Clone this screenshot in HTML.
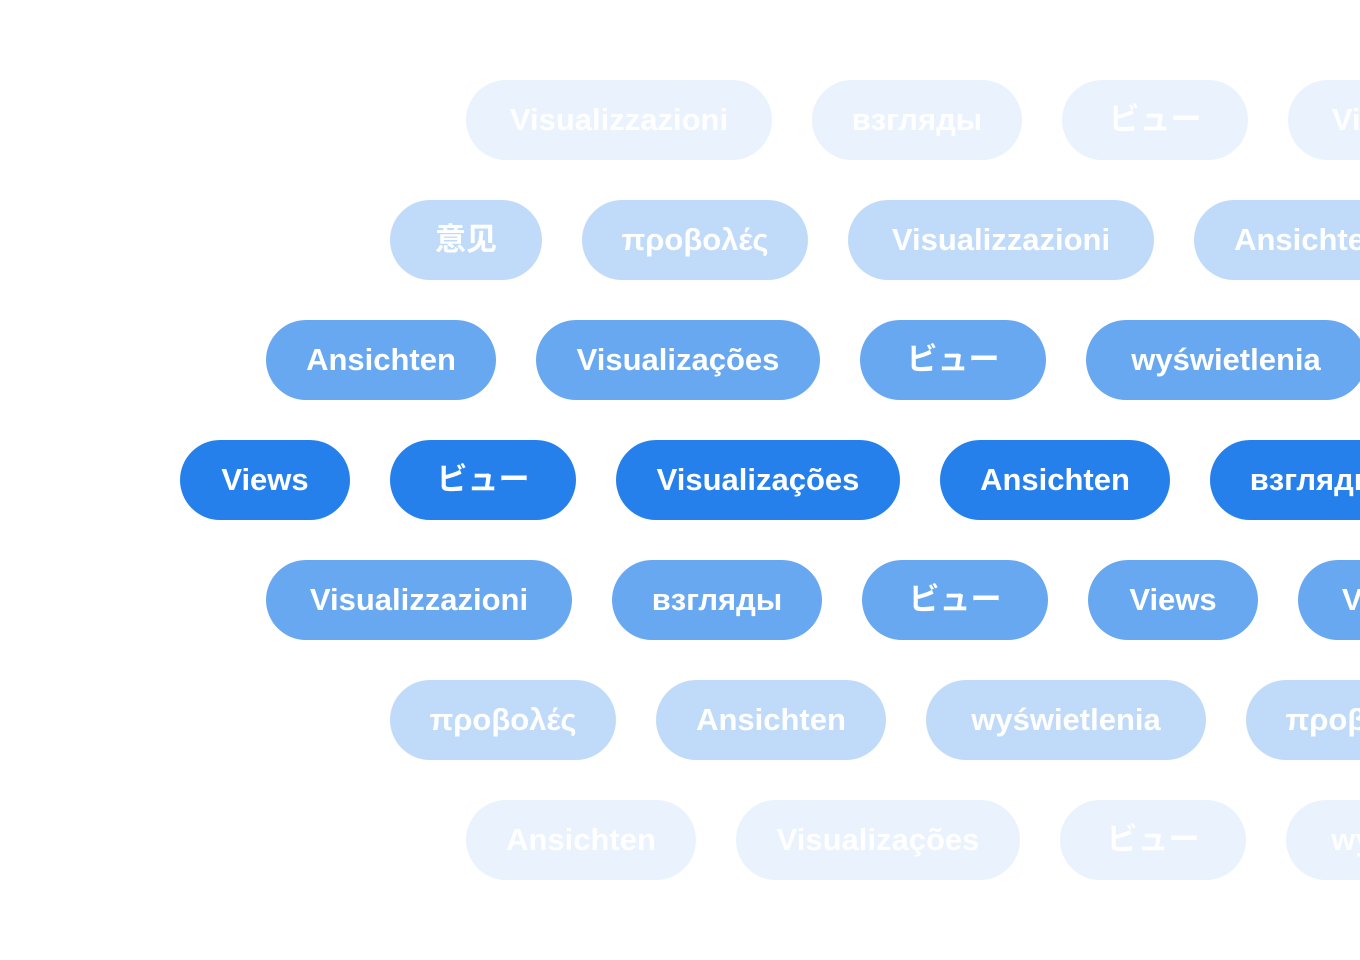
<!DOCTYPE html>
<html><head><meta charset="utf-8"><style>
html,body{margin:0;padding:0;width:1360px;height:960px;overflow:hidden;background:#fff}
#w{position:relative;width:1360px;height:960px;overflow:hidden}
.p{position:absolute;height:80px;border-radius:40px;color:#fff;font-family:"Liberation Sans","Noto Sans CJK JP",sans-serif;font-weight:bold;font-size:31px;line-height:80px;text-align:center;white-space:nowrap;overflow:hidden}
.a{background:#e9f2fd}.b{background:#c0dbf9}.c{background:#68a8f0}.d{background:#2680eb}
</style></head><body><div id="w">
<div class="p a" style="left:466px;top:80px;width:306px">Visualizzazioni</div>
<div class="p a" style="left:812px;top:80px;width:210px">взгляды</div>
<div class="p a" style="left:1062px;top:80px;width:186px">ビュー</div>
<div class="p a" style="left:1288px;top:80px;width:306px">Visualizzazioni</div>

<div class="p b" style="left:390px;top:200px;width:152px">意见</div>
<div class="p b" style="left:582px;top:200px;width:226px">προβολές</div>
<div class="p b" style="left:848px;top:200px;width:306px">Visualizzazioni</div>
<div class="p b" style="left:1194px;top:200px;width:230px">Ansichten</div>

<div class="p c" style="left:266px;top:320px;width:230px">Ansichten</div>
<div class="p c" style="left:536px;top:320px;width:284px">Visualizações</div>
<div class="p c" style="left:860px;top:320px;width:186px">ビュー</div>
<div class="p c" style="left:1086px;top:320px;width:280px">wyświetlenia</div>

<div class="p d" style="left:180px;top:440px;width:170px">Views</div>
<div class="p d" style="left:390px;top:440px;width:186px">ビュー</div>
<div class="p d" style="left:616px;top:440px;width:284px">Visualizações</div>
<div class="p d" style="left:940px;top:440px;width:230px">Ansichten</div>
<div class="p d" style="left:1210px;top:440px;width:210px">взгляды</div>

<div class="p c" style="left:266px;top:560px;width:306px">Visualizzazioni</div>
<div class="p c" style="left:612px;top:560px;width:210px">взгляды</div>
<div class="p c" style="left:862px;top:560px;width:186px">ビュー</div>
<div class="p c" style="left:1088px;top:560px;width:170px">Views</div>
<div class="p c" style="left:1298px;top:560px;width:306px">Visualizzazioni</div>

<div class="p b" style="left:390px;top:680px;width:226px">προβολές</div>
<div class="p b" style="left:656px;top:680px;width:230px">Ansichten</div>
<div class="p b" style="left:926px;top:680px;width:280px">wyświetlenia</div>
<div class="p b" style="left:1246px;top:680px;width:226px">προβολές</div>

<div class="p a" style="left:466px;top:800px;width:230px">Ansichten</div>
<div class="p a" style="left:736px;top:800px;width:284px">Visualizações</div>
<div class="p a" style="left:1060px;top:800px;width:186px">ビュー</div>
<div class="p a" style="left:1286px;top:800px;width:280px">wyświetlenia</div>
</div></body></html>
